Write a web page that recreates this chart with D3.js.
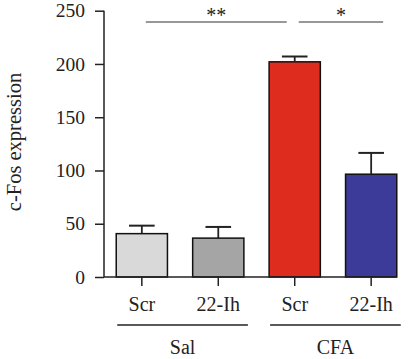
<!DOCTYPE html>
<html>
<head>
<meta charset="utf-8">
<script src="https://cdn.jsdelivr.net/npm/d3@7"></script>
<style>
  body { margin: 0; background: #fff; }
  text { font-family: 'Liberation Serif', 'Times New Roman', serif; fill: #222; }
</style>
</head>
<body>
<div id="chart-area"></div>
<script>
// data
const categories = ['Sal-Scr', 'Sal-22-Ih', 'CFA-Scr', 'CFA-22-Ih'];
const barLabels = ['Scr', '22-Ih', 'Scr', '22-Ih'];
const means = [40.7, 36.5, 202, 96.5];
const errors = [7.5, 10.5, 5, 20];
const colors = ['#d9d9d9', '#a6a5a6', '#de2c1f', '#3c3b9a'];
const groups = ['Sal', 'CFA'];
const yTicks = [0, 50, 100, 150, 200, 250];

const margins = { top: 10.7, right: 0, bottom: 82, left: 104 };
const height = 277 - margins.top;

const svg = d3.select('#chart-area')
  .append('svg')
  .attr('width', 408)
  .attr('height', 359);

const g = svg.append('g')
  .attr('transform', 'translate(' + margins.left + ', ' + margins.top + ')');

const x = d3.scaleBand()
  .domain(categories)
  .range([0, 305])
  .paddingInner(0.33)
  .paddingOuter(0.16);

const y = d3.scaleLinear()
  .domain([0, 250])
  .range([height, 0]);

// y axis
const yAxisCall = d3.axisLeft(y)
  .tickValues(yTicks)
  .tickSize(9)
  .tickPadding(10);

const yAxis = g.append('g')
  .attr('class', 'y axis-left')
  .call(yAxisCall);
yAxis.select('.domain').attr('d', 'M0,' + y(250) + 'V' + y(0)).attr('stroke', '#222').attr('stroke-width', 1.5);
yAxis.selectAll('.tick line').attr('stroke', '#222').attr('stroke-width', 1.5);
yAxis.selectAll('text')
  .attr('font-size', '19.5px')
  .attr('font-family', "'Liberation Serif', serif")
  .attr('fill', '#222');

// bars
g.selectAll('rect.bar')
  .data(means)
  .enter()
  .append('rect')
  .attr('class', 'bar')
  .attr('x', (d, i) => x(categories[i]))
  .attr('y', (d) => y(d))
  .attr('width', x.bandwidth())
  .attr('height', (d) => height - y(d))
  .attr('fill', (d, i) => colors[i])
  .attr('stroke', '#111')
  .attr('stroke-width', 1.5);

// error bars (upper only)
const capW = x.bandwidth() / 2;
means.forEach((m, i) => {
  const cx = x(categories[i]) + x.bandwidth() / 2;
  g.append('line')
    .attr('x1', cx).attr('x2', cx)
    .attr('y1', y(m)).attr('y2', y(m + errors[i]))
    .attr('stroke', '#222').attr('stroke-width', 1.8);
  g.append('line')
    .attr('x1', cx - capW / 2).attr('x2', cx + capW / 2)
    .attr('y1', y(m + errors[i])).attr('y2', y(m + errors[i]))
    .attr('stroke', '#222').attr('stroke-width', 2);
});

// x axis
const xAxisCall = d3.axisBottom(x)
  .tickSize(9)
  .tickPadding(11)
  .tickFormat((d, i) => barLabels[i]);

const xAxis = g.append('g')
  .attr('class', 'x axis-bottom')
  .attr('transform', 'translate(0, ' + height + ')')
  .call(xAxisCall);
xAxis.select('.domain').attr('d', 'M0,0H' + (x(categories[3]) + x.bandwidth())).attr('stroke', '#222').attr('stroke-width', 1.5);
xAxis.selectAll('.tick line').attr('stroke', '#222').attr('stroke-width', 1.5);
xAxis.selectAll('text')
  .attr('font-size', '20px')
  .attr('font-family', "'Liberation Serif', serif")
  .attr('fill', '#222');

// group labels
groups.forEach((grp, k) => {
  const a = x(categories[k * 2]) + 1;
  const b = x(categories[k * 2 + 1]) + x.bandwidth() + 4;
  g.append('line')
    .attr('x1', a).attr('x2', b)
    .attr('y1', height + 48).attr('y2', height + 48)
    .attr('stroke', '#222').attr('stroke-width', 1.5);
  g.append('text')
    .attr('x', (a + b) / 2)
    .attr('y', height + 77)
    .attr('font-size', '20px')
    .attr('text-anchor', 'middle')
    .text(grp);
});

// significance
const sig = [
  { from: 0, to: 2, label: '**' },
  { from: 2, to: 3, label: '*' }
];
sig.forEach((s) => {
  const a = x(categories[s.from]) + x.bandwidth() / 2 + 4;
  const b = x(categories[s.to]) + x.bandwidth() / 2 + (s.from === 0 ? -8 : 12);
  g.append('line')
    .attr('x1', a).attr('x2', b)
    .attr('y1', 11.3).attr('y2', 11.3)
    .attr('stroke', '#333').attr('stroke-width', 1.2);
  g.append('text')
    .attr('x', (a + b) / 2)
    .attr('y', 11)
    .attr('font-size', '20px')
    .attr('fill', '#666')
    .attr('text-anchor', 'middle')
    .text(s.label);
});

// Y Label
g.append('text')
  .attr('class', 'y axis-label')
  .attr('x', -(142 - margins.top))
  .attr('y', -83)
  .attr('font-size', '20.5px')
  .attr('text-anchor', 'middle')
  .attr('transform', 'rotate(-90)')
  .text('c-Fos expression');
</script>
</body>
</html>
